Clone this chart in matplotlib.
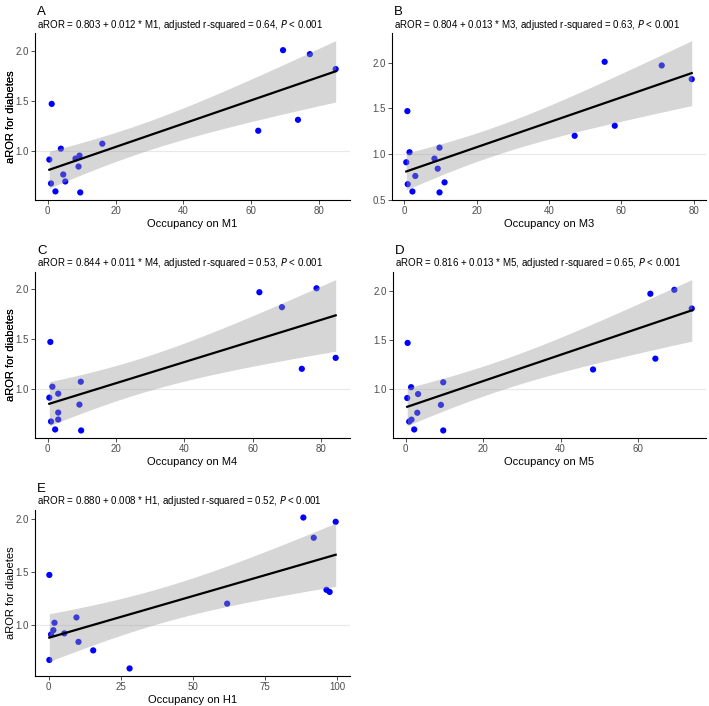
import numpy as np
import matplotlib.pyplot as plt
from matplotlib.ticker import MultipleLocator

plt.rcParams['font.family'] = ['Liberation Sans', 'DejaVu Sans']

# --- Data (occupancy %, aROR for diabetes) ---
m1_x = [0.5, 1.2, 1.0, 2.3, 3.9, 4.6, 5.2, 8.2, 9.1, 9.4, 9.6, 16.1, 62.0, 69.3, 73.7, 77.2, 84.8]
m1_y = [0.91, 1.47, 0.67, 0.59, 1.02, 0.76, 0.69, 0.92, 0.84, 0.95, 0.58, 1.07, 1.20, 2.01, 1.31, 1.97, 1.82]

m3_x = [1.4, 0.5, 3.0, 0.9, 2.2, 9.7, 8.3, 9.2, 11.1, 9.7, 0.8, 47.1, 58.2, 55.4, 71.2, 79.5]
m3_y = [1.02, 0.91, 0.76, 0.67, 0.59, 1.07, 0.95, 0.84, 0.69, 0.58, 1.47, 1.20, 1.31, 2.01, 1.97, 1.82]

m4_x = [0.8, 1.4, 0.5, 3.1, 3.1, 3.1, 1.0, 2.2, 9.7, 9.3, 9.8, 61.9, 68.5, 78.6, 74.3, 84.2]
m4_y = [1.47, 1.02, 0.91, 0.95, 0.76, 0.69, 0.67, 0.59, 1.07, 0.84, 0.58, 1.97, 1.82, 2.01, 1.20, 1.31]

m5_x = [0.5, 1.4, 0.4, 3.2, 3.0, 0.9, 1.5, 2.2, 9.7, 9.1, 9.7, 48.4, 63.2, 64.5, 69.4, 73.9]
m5_y = [1.47, 1.02, 0.91, 0.95, 0.76, 0.67, 0.69, 0.59, 1.07, 0.84, 0.58, 1.20, 1.97, 1.31, 2.01, 1.82]

h1_x = [0.2, 0.2, 0.8, 1.6, 2.0, 5.4, 9.6, 10.3, 15.4, 28.0, 61.8, 88.2, 91.8, 96.2, 97.3, 99.4]
h1_y = [1.47, 0.67, 0.91, 0.95, 1.02, 0.92, 1.07, 0.84, 0.76, 0.59, 1.20, 2.01, 1.82, 1.33, 1.31, 1.97]

letters = ['A', 'B', 'C', 'D', 'E']
targets = ['M1', 'M3', 'M4', 'M5', 'H1']
subtitles = [
    'aROR = 0.803 + 0.012 * M1, adjusted r-squared = 0.64, $\\it{P}$ < 0.001',
    'aROR = 0.804 + 0.013 * M3, adjusted r-squared = 0.63, $\\it{P}$ < 0.001',
    'aROR = 0.844 + 0.011 * M4, adjusted r-squared = 0.53, $\\it{P}$ < 0.001',
    'aROR = 0.816 + 0.013 * M5, adjusted r-squared = 0.65, $\\it{P}$ < 0.001',
    'aROR = 0.880 + 0.008 * H1, adjusted r-squared = 0.52, $\\it{P}$ < 0.001',
]
xs = [m1_x, m3_x, m4_x, m5_x, h1_x]
ys = [m1_y, m3_y, m4_y, m5_y, h1_y]
x_steps = [20, 20, 20, 20, 25]

# t quantiles (0.975) for the confidence band
T975 = {13: 2.160, 14: 2.145, 15: 2.131, 16: 2.120, 17: 2.110}

# axes boxes in pixels: left, right, top, bottom
W, H = 709, 706
boxes = [(35, 350, 33, 200), (392, 706, 33, 200),
         (35, 350, 272, 438), (393, 706, 272, 438),
         (35, 350, 510, 676)]

fig = plt.figure(figsize=(W / 100, H / 100), dpi=100)

for i in range(5):
    l, r, t, b = boxes[i]
    ax = fig.add_axes([l / W, 1 - b / H, (r - l) / W, (b - t) / H])
    x = np.array(xs[i])
    y = np.array(ys[i])

    # OLS fit + 95% CI of the mean
    n = len(x)
    slope, icpt = np.polyfit(x, y, 1)
    resid = y - (icpt + slope * x)
    s = np.sqrt(np.sum(resid ** 2) / (n - 2))
    xg = np.linspace(x.min(), x.max(), 80)
    yg = icpt + slope * xg
    se = s * np.sqrt(1 / n + (xg - x.mean()) ** 2 / np.sum((x - x.mean()) ** 2))
    lo = yg - T975[n - 2] * se
    hi = yg + T975[n - 2] * se

    ax.axhline(1.0, color='#E8E8E8', lw=0.8, zorder=1)
    ax.scatter(x, y, s=20, color='blue', edgecolors='none', zorder=2)
    ax.fill_between(xg, lo, hi, color='#999999', alpha=0.4, lw=0, zorder=3)
    ax.plot(xg, yg, color='black', lw=1.6, zorder=4)

    xr = x.max() - x.min()
    ax.set_xlim(x.min() - 0.05 * xr, x.max() + 0.05 * xr)
    ymin = min(y.min(), lo.min())
    ymax = max(y.max(), hi.max())
    yr = ymax - ymin
    ax.set_ylim(ymin - 0.05 * yr, ymax + 0.05 * yr)
    ax.xaxis.set_major_locator(MultipleLocator(x_steps[i]))
    ax.yaxis.set_major_locator(MultipleLocator(0.5))
    ax.yaxis.set_major_formatter(plt.FormatStrFormatter('%.1f'))

    for sp in ['top', 'right']:
        ax.spines[sp].set_visible(False)
    for sp in ['left', 'bottom']:
        ax.spines[sp].set_linewidth(0.8)
    ax.tick_params(length=3, width=0.6, color='#333333', labelcolor='#4D4D4D',
                   labelsize=7, pad=1.5)

    ax.set_xlabel('Occupancy on ' + targets[i], fontsize=8, labelpad=2)
    ax.set_ylabel('aROR for diabetes', fontsize=8)
    ax.yaxis.set_label_coords((16 - l) / (r - l), 0.5)

    # panel letter + subtitle
    fig.text((l + 2) / W, 1 - 15 / H - (t - 33) / H, letters[i], fontsize=9.5,
             va='baseline', ha='left')
    fig.text((l + 2) / W, 1 - 24.5 / H - (t - 33) / H, subtitles[i], fontsize=7,
             va='center', ha='left')

fig.savefig('out.png', dpi=100)
